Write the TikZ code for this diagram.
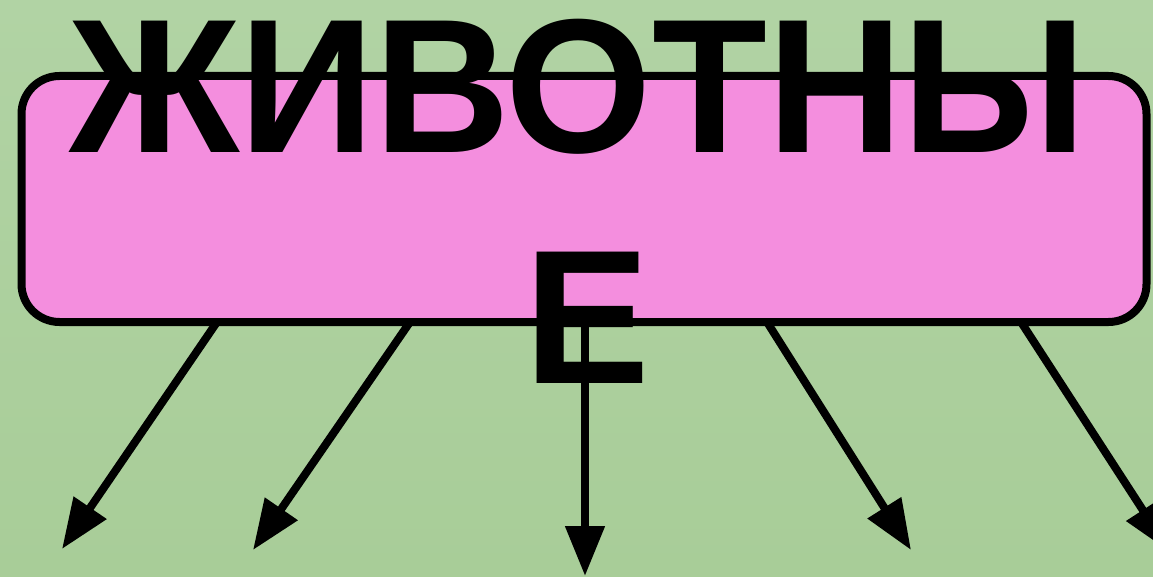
\documentclass[tikz,border=0pt]{standalone}
\usepackage{fontspec}
\setmainfont{Liberation Sans}
\usetikzlibrary{arrows.meta}
\definecolor{bgtop}{HTML}{B1D3A4}
\definecolor{bgbot}{HTML}{A8CD98}
\definecolor{boxpink}{HTML}{F48EDE}
\tikzset{
  mainbox/.style={draw=black, fill=boxpink, line width=8pt, rounded corners=38pt,
    minimum width=1125pt, minimum height=246pt, inner sep=0pt},
  bigtext/.style={font=\fontsize{191}{230}\selectfont\bfseries, inner sep=0pt, anchor=base},
  arr/.style={line width=8pt, -{Triangle[length=50pt,width=38pt]}}
}
\begin{document}
\begin{tikzpicture}[x=1pt,y=-1pt]
\shade[top color=bgtop, bottom color=bgbot] (0,0) rectangle (1153,577);
\useasboundingbox (0,0) rectangle (1153,577);
\clip (0,0) rectangle (1153,577);
\node[mainbox] (box) at (584,199) {};
\coordinate (s1) at (217,322);
\coordinate (s2) at (410,322);
\coordinate (s3) at (585,322);
\coordinate (s4) at (767,322);
\coordinate (s5) at (1021,322);
\coordinate (e1) at (62,549);
\coordinate (e2) at (253,550);
\coordinate (e3) at (585,576);
\coordinate (e4) at (911,550);
\coordinate (e5) at (1170,552);
\draw[arr] (s1) -- (e1);
\draw[arr] (s2) -- (e2);
\draw[arr] (s3) -- (e3);
\draw[arr] (s4) -- (e4);
\draw[arr] (s5) -- (e5);
\node[bigtext, xscale=0.985] (t1) at (578,153) {ЖИВОТНЫ};
\node[bigtext, xscale=0.985] (t2) at (587,383) {Е};
\end{tikzpicture}
\end{document}
